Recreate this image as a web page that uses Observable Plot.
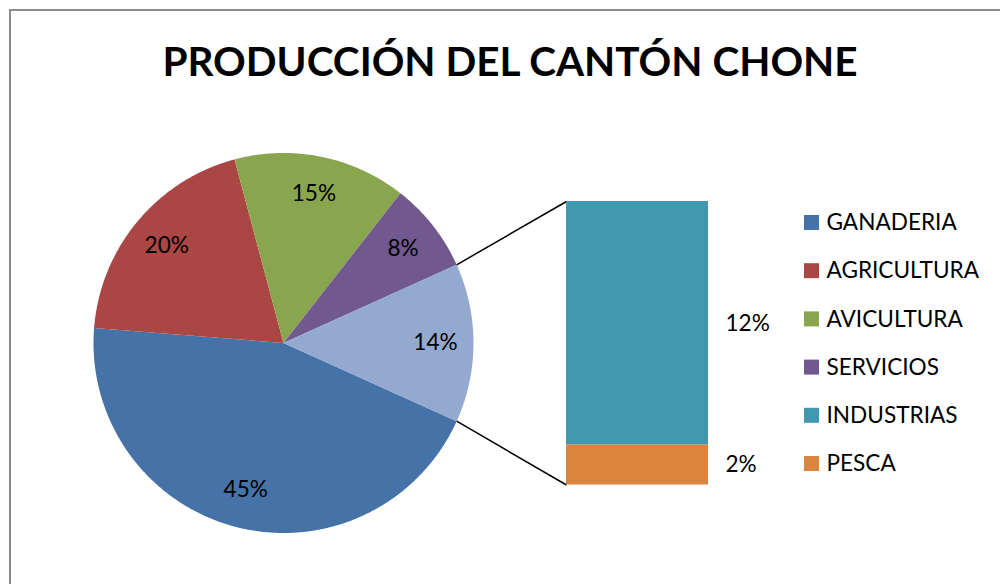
<!DOCTYPE html>
<html><head><meta charset="utf-8">
<script src="https://cdn.jsdelivr.net/npm/d3@7"></script>
<script src="https://cdn.jsdelivr.net/npm/@observablehq/plot@0.6"></script>
<style>
html,body{margin:0;padding:0;background:#fff;overflow:hidden;}
#wrap{position:relative;width:1000px;height:584px;overflow:hidden;font-family:Lato,sans-serif;}
#chart{position:absolute;left:0;top:0;}
#frame{position:absolute;left:9px;top:9px;width:1100px;height:700px;border:2px solid #8c8c8c;}
#title{position:absolute;left:10px;width:1000px;top:31px;text-align:center;font-weight:bold;font-size:40.5px;line-height:60px;color:#000;}
</style></head><body>
<div id="wrap"><div id="chart"></div><div id="frame"></div><div id="title">PRODUCCIÓN DEL CANTÓN CHONE</div></div>
<script>
// ---- data ----
const categories = ["GANADERIA", "AGRICULTURA", "AVICULTURA", "SERVICIOS", "INDUSTRIAS", "PESCA"];
const values = [44.5, 19.6, 14.7, 7.7, 11.6, 1.9];          // percent of total
const colors = ["#4572A7", "#AA4643", "#89A54E", "#71588F", "#4198AF", "#DB843D"];
const pieCount = 4;                 // first 4 in the pie, rest in the bar
const otherColor = "#93A9CF";

// ---- layout ----
const cx = 283, cy = 342.5, R = 190;
const barX1 = 566, barX2 = 708, barTop = 201, barBottom = 484.5;
const fontFam = "Lato, sans-serif";
const fs = 22.6;

const total = d3.sum(values);
const pct = v => Math.round(v / total * 100 + 1e-9) + "%";
const otherVal = d3.sum(values.slice(pieCount));
const deg = Math.PI / 180;
const pt = (a, r) => ({x: cx + r * Math.cos(a * deg), y: cy + r * Math.sin(a * deg)});

// pie slices: "other" centred on the right, others clockwise after it
const slices = [];
const otherSpan = otherVal / total * 360;
let a = otherSpan / 2;
for (let i = 0; i < pieCount; i++) {
  const span = values[i] / total * 360;
  slices.push({name: categories[i], value: values[i], a0: a, a1: a + span, color: colors[i]});
  a += span;
}
slices.push({name: "OTROS", value: otherVal, a0: -otherSpan / 2, a1: otherSpan / 2, color: otherColor});

function wedge(s) {
  const pts = [{x: cx, y: cy}];
  const n = Math.max(2, Math.ceil((s.a1 - s.a0) / 0.5));
  for (let k = 0; k <= n; k++) pts.push(pt(s.a0 + (s.a1 - s.a0) * k / n, R));
  pts.push({x: cx, y: cy});
  return pts;
}

const pieLabels = slices.map(s => ({...pt((s.a0 + s.a1) / 2, R * 0.8), text: pct(s.value)}));

// bar of the "other" part
const scaleBar = (barBottom - barTop) / otherVal;
let yc = barTop;
const bars = [];
for (let i = pieCount; i < categories.length; i++) {
  const h = values[i] * scaleBar;
  bars.push({x1: barX1, x2: barX2, y1: yc, y2: yc + h, color: colors[i], text: pct(values[i]), ym: yc + h / 2});
  yc += h;
}

const connectors = [
  {...(p => ({x1: p.x, y1: p.y}))(pt(-otherSpan / 2, R)), x2: barX1, y2: barTop},
  {...(p => ({x1: p.x, y1: p.y}))(pt(otherSpan / 2, R)), x2: barX1, y2: barBottom}
];

// legend
const legX = 804, legY0 = 222.5, legStep = 48.2, legSz = 15;
const legend = categories.map((c, i) => ({
  name: c, color: colors[i],
  x1: legX, x2: legX + legSz, y1: legY0 + i * legStep - legSz / 2, y2: legY0 + i * legStep + legSz / 2,
  tx: legX + legSz + 7, ty: legY0 + i * legStep
}));

const marks = [];
for (const s of slices) marks.push(Plot.line(wedge(s), {x: "x", y: "y", fill: s.color, stroke: "none", curve: "linear"}));
marks.push(Plot.link(connectors, {x1: "x1", y1: "y1", x2: "x2", y2: "y2", stroke: "#000", strokeWidth: 1.5}));
marks.push(Plot.rect(bars, {x1: "x1", x2: "x2", y1: "y1", y2: "y2", fill: "color"}));
marks.push(Plot.text(pieLabels, {x: "x", y: "y", text: "text", fontSize: fs, fontFamily: fontFam, fill: "#000"}));
marks.push(Plot.text(bars, {x: d => d.x2 + 17, y: "ym", text: "text", textAnchor: "start", fontSize: fs, fontFamily: fontFam, fill: "#000"}));
marks.push(Plot.rect(legend, {x1: "x1", x2: "x2", y1: "y1", y2: "y2", fill: "color"}));
marks.push(Plot.text(legend, {x: "tx", y: "ty", text: "name", textAnchor: "start", fontSize: fs, fontFamily: fontFam, fill: "#000"}));

const chart = Plot.plot({
  width: 1000, height: 584, margin: 0,
  x: {domain: [0, 1000], range: [0, 1000], axis: null},
  y: {domain: [0, 584], range: [0, 584], axis: null},
  color: {type: "identity"},
  style: {background: "transparent", overflow: "visible"},
  marks
});
document.getElementById("chart").appendChild(chart);
</script>
</body></html>
